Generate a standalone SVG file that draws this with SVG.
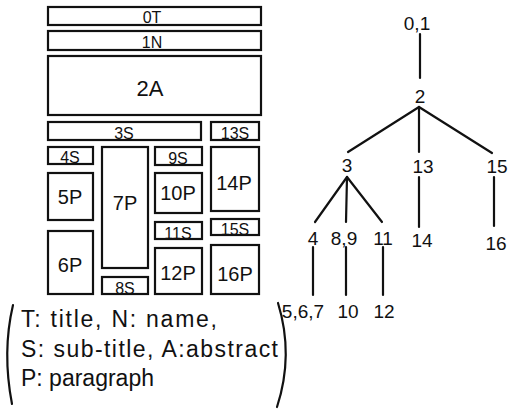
<svg xmlns="http://www.w3.org/2000/svg" width="513" height="409" viewBox="0 0 513 409">
<style>
.box rect{fill:#fff;stroke:#111;stroke-width:2.2}
text{font-family:"Liberation Sans",Arial,sans-serif;fill:#111;text-anchor:middle}
.s{font-size:16px}
.p{font-size:20px}
.t{font-size:19px}
.lg{font-size:23px;text-anchor:start}
.edge{stroke:#111;stroke-width:2.2;fill:none;stroke-linecap:round}
</style>
<rect width="513" height="409" fill="#fff"/>
<g id="layout" class="box">
<g id="b0T"><rect x="48" y="7" width="213" height="18"/><text class="s" x="152" y="23">0T</text></g>
<g id="b1N"><rect x="48" y="31" width="213" height="19"/><text class="s" x="152" y="48">1N</text></g>
<g id="b2A"><rect x="48" y="56" width="213" height="59"/><text class="p" x="150" y="96" style="font-size:22px">2A</text></g>
<g id="b3S"><rect x="48" y="122" width="153" height="18"/><text class="s" x="124" y="139">3S</text></g>
<g id="b13S"><rect x="211" y="122" width="48" height="18"/><text class="s" x="235" y="139">13S</text></g>
<g id="b4S"><rect x="48" y="147" width="45" height="17"/><text class="s" x="70" y="163">4S</text></g>
<g id="b5P"><rect x="48" y="173" width="45" height="47"/><text class="p" x="70" y="204">5P</text></g>
<g id="b6P"><rect x="48" y="231" width="45" height="63"/><text class="p" x="70" y="272">6P</text></g>
<g id="b7P"><rect x="102" y="147" width="46" height="121"/><text class="p" x="125" y="210">7P</text></g>
<g id="b8S"><rect x="102" y="277" width="46" height="17"/><text class="s" x="125" y="294">8S</text></g>
<g id="b9S"><rect x="155" y="147" width="47" height="18"/><text class="s" x="178" y="164">9S</text></g>
<g id="b10P"><rect x="155" y="173" width="47" height="40"/><text class="p" x="178" y="200">10P</text></g>
<g id="b11S"><rect x="155" y="222" width="47" height="17"/><text class="s" x="178" y="239">11S</text></g>
<g id="b12P"><rect x="155" y="248" width="47" height="46"/><text class="p" x="178" y="280">12P</text></g>
<g id="b14P"><rect x="211" y="147" width="48" height="64"/><text class="p" x="234" y="190">14P</text></g>
<g id="b15S"><rect x="211" y="219" width="48" height="16"/><text class="s" x="235" y="235">15S</text></g>
<g id="b16P"><rect x="211" y="245" width="48" height="49"/><text class="p" x="235" y="281">16P</text></g>
</g>
<g id="legend">
<path class="edge" d="M13 305 Q2 352 12 404"/>
<path class="edge" d="M278 303 Q294 355 277 407"/>
<text class="lg" x="21" y="327" textLength="196" lengthAdjust="spacing">T: title, N: name,</text>
<text class="lg" x="21" y="357" textLength="257" lengthAdjust="spacing">S: sub-title, A:abstract</text>
<text class="lg" x="21" y="386">P: paragraph</text>
</g>
<g id="connectors">
<line class="edge" x1="420" y1="34" x2="420" y2="78"/>
<line class="edge" x1="419" y1="107" x2="348" y2="152"/>
<line class="edge" x1="419" y1="107" x2="419" y2="152"/>
<line class="edge" x1="419" y1="107" x2="492" y2="153"/>
<line class="edge" x1="347" y1="177" x2="315" y2="222"/>
<line class="edge" x1="347" y1="177" x2="346" y2="222"/>
<line class="edge" x1="347" y1="177" x2="382" y2="222"/>
<line class="edge" x1="419" y1="177" x2="419" y2="227"/>
<line class="edge" x1="494" y1="177" x2="494" y2="226"/>
<line class="edge" x1="313" y1="247" x2="313" y2="295"/>
<line class="edge" x1="346" y1="247" x2="346" y2="295"/>
<line class="edge" x1="383" y1="247" x2="383" y2="295"/>
</g>
<g id="tree" class="t">
<g id="n01"><text class="t" x="417" y="30">0,1</text></g>
<g id="n2"><text class="t" x="420" y="103">2</text></g>
<g id="n3"><text class="t" x="347" y="172">3</text></g>
<g id="n13"><text class="t" x="423" y="173">13</text></g>
<g id="n15"><text class="t" x="497" y="173">15</text></g>
<g id="n4"><text class="t" x="313" y="245">4</text></g>
<g id="n89"><text class="t" x="344" y="245">8,9</text></g>
<g id="n11"><text class="t" x="383" y="245">11</text></g>
<g id="n14"><text class="t" x="422" y="247">14</text></g>
<g id="n16"><text class="t" x="496" y="250">16</text></g>
<g id="n567"><text class="t" x="303" y="318">5,6,7</text></g>
<g id="n10"><text class="t" x="348" y="318">10</text></g>
<g id="n12"><text class="t" x="384" y="318">12</text></g>
</g>
</svg>
